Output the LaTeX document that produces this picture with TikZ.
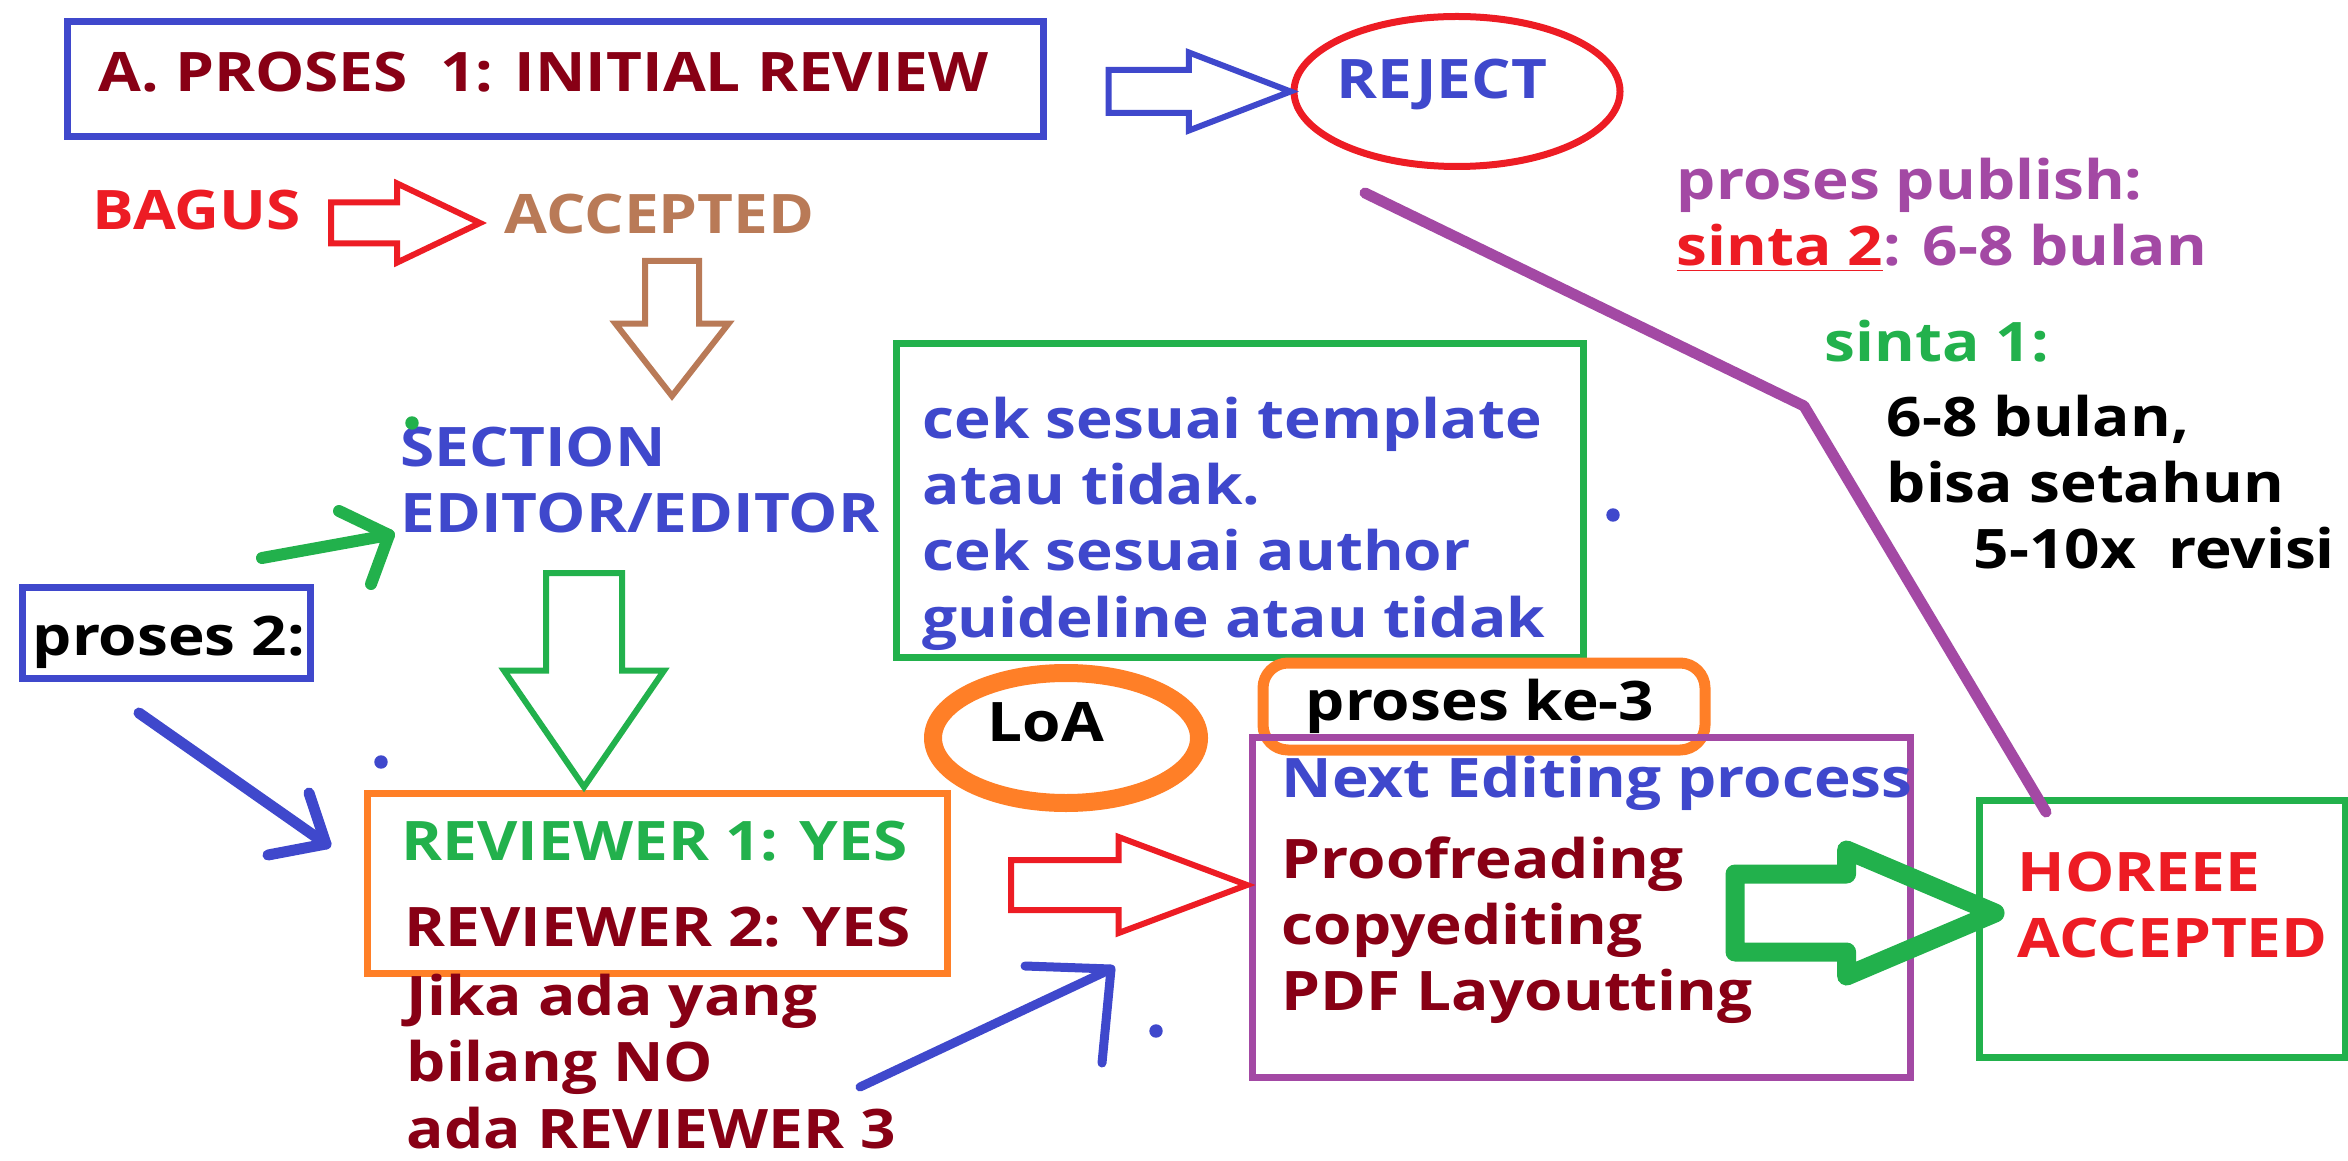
\documentclass[tikz,border=0pt]{standalone}
\usepackage{fontspec}
\setmainfont{Open Sans}[FakeStretch=1.14]
\usetikzlibrary{shapes.geometric,shapes.arrows}
\definecolor{pblue}{HTML}{3F48CC}
\definecolor{pred}{HTML}{ED1C24}
\definecolor{pdarkred}{HTML}{880015}
\definecolor{pbrown}{HTML}{B97A57}
\definecolor{pgreen}{HTML}{22B14C}
\definecolor{porange}{HTML}{FF7F27}
\definecolor{ppurple}{HTML}{A349A4}
\begin{document}
\begin{tikzpicture}[
  lbl/.style={font=\fontsize{15.5}{18.8}\selectfont\bfseries, align=left, inner sep=0pt, anchor=base west},
  frame/.style={draw=#1, line width=0.07cm, inner sep=0pt},
  hollow/.style={single arrow, draw=#1, fill=white, line width=0.06cm, inner xsep=0pt, outer sep=0pt, anchor=tip, single arrow head indent=0pt},
  pen/.style={draw=#1, line cap=round, line join=round}
]
\useasboundingbox (0,0) rectangle (23.48,11.6);

\node[frame=pblue, minimum width=9.76cm, minimum height=1.15cm] (initial) at (5.555,10.81) {};
\node[lbl, text=pdarkred] (initialtxt) at (0.98,10.68) {A. PROSES\ \ 1: INITIAL REVIEW};
\node[frame=pred, ellipse, minimum width=3.26cm, minimum height=1.50cm] (reject) at (14.57,10.685) {};
\node[lbl, text=pblue] (rejecttxt) at (13.36,10.61) {REJECT};
\node[hollow=pblue, minimum height=1.82cm, inner ysep=0.185cm, single arrow head extend=0.175cm, single arrow tip angle=42] (toreject) at (reject.west) {};

\node[lbl, text=pred] (bagus) at (0.92,9.30) {BAGUS};
\node[lbl, text=pbrown] (accepted) at (5.04,9.26) {ACCEPTED};
\node[hollow=pred, minimum height=1.49cm, inner ysep=0.175cm, single arrow head extend=0.19cm, single arrow tip angle=51] (toaccept) at (4.80,9.37) {};
\node[hollow=pbrown, rotate=-90, minimum height=1.35cm, inner ysep=0.24cm, single arrow head extend=0.295cm, single arrow tip angle=76] (toeditor) at (6.72,7.64) {};

\node[lbl, text=pblue] (editor) at (4.00,6.277) {SECTION\\EDITOR/EDITOR};
\draw[fill, pgreen] (4.12,7.37) circle [radius=0.06];
\coordinate (gtail) at (2.62,6.02);
\coordinate (gtip) at (3.89,6.25);
\draw[pen=pgreen, line width=0.12cm] (gtail) -- (gtip);
\draw[pen=pgreen, line width=0.12cm] (3.39,6.49) -- (gtip) -- (3.71,5.76);

\node[frame=pgreen, minimum width=6.87cm, minimum height=3.13cm] (cek) at (12.395,6.595) {};
\node[lbl, text=pblue] (cektxt) at (9.22,5.23) {cek sesuai template\\atau tidak.\\cek sesuai author\\guideline atau tidak};
\draw[fill, pblue] (16.13,6.45) circle [radius=0.06];

\node[frame=pblue, minimum width=2.88cm, minimum height=0.91cm] (proses2) at (1.66,5.275) {};
\node[lbl] (proses2txt) at (0.32,5.05) {proses 2:};
\coordinate (btail) at (1.39,4.47);
\coordinate (btip) at (3.26,3.16);
\draw[pen=pblue, line width=0.11cm] (btail) -- (btip);
\draw[pen=pblue, line width=0.11cm] (3.09,3.67) -- (btip) -- (2.68,3.05);
\draw[fill, pblue] (3.81,3.98) circle [radius=0.06];

\node[frame=porange, minimum width=5.80cm, minimum height=1.80cm] (review) at (6.57,2.77) {};
\node[hollow=pgreen, rotate=-90, minimum height=2.14cm, inner ysep=0.35cm, single arrow head extend=0.42cm, single arrow tip angle=69] (toreview) at (5.84,3.73) {};
\node[lbl, text=pgreen] (rev1) at (4.01,3.00) {REVIEWER 1: YES};
\node[lbl, text=pdarkred] (rev2) at (4.04,2.14) {REVIEWER 2: YES};
\node[lbl, text=pdarkred] (rev3) at (4.06,0.12) {Jika ada yang\\bilang NO\\ada REVIEWER 3};

\coordinate (ctail) at (8.60,0.73);
\coordinate (ctip) at (11.11,1.91);
\draw[pen=pblue, line width=0.09cm] (ctail) -- (ctip);
\draw[pen=pblue, line width=0.09cm] (10.25,1.94) -- (ctip) -- (11.02,0.97);
\draw[fill, pblue] (11.56,1.29) circle [radius=0.06];

\node[draw=porange, line width=0.18cm, ellipse, minimum width=2.66cm, minimum height=1.30cm] (loa) at (10.66,4.22) {};
\node[lbl] (loatxt) at (9.87,4.19) {LoA};

\node[frame=porange, line width=0.11cm, rounded corners=0.25cm, minimum width=4.42cm, minimum height=0.87cm] (ke3) at (14.84,4.535) {};
\node[frame=ppurple, minimum width=6.58cm, minimum height=3.40cm] (editing) at (15.81,2.53) {};
\node[lbl] (ke3txt) at (13.05,4.40) {proses ke-3};
\node[lbl, text=pblue] (nexttxt) at (12.81,3.63) {Next Editing process};
\node[lbl, text=pdarkred] (editingtxt) at (12.81,1.494) {Proofreading\\copyediting\\PDF Layoutting};
\node[hollow=pred, minimum height=2.36cm, inner ysep=0.22cm, single arrow head extend=0.23cm, single arrow tip angle=41] (toediting) at (12.47,2.75) {};

\node[frame=pgreen, minimum width=3.66cm, minimum height=2.57cm] (horeee) at (21.62,2.315) {};
\node[lbl, text=pred] (horeeetxt) at (20.17,2.027) {HOREEE\\ACCEPTED};
\node[hollow=pgreen, fill=none, line width=0.19cm, line join=round, minimum height=2.60cm, inner ysep=0.295cm, single arrow head extend=0.24cm, single arrow tip angle=46] (tohoreee) at (19.95,2.47) {};

\coordinate (pstart) at (13.65,9.67);
\coordinate (pbend) at (18.04,7.54);
\coordinate (pend) at (20.46,3.48);
\draw[pen=ppurple, line width=0.11cm] (pstart) -- (pbend) -- (pend);

\node[lbl, text=ppurple] (publish) at (16.76,8.947) {proses publish:\\\textcolor{pred}{\underline{sinta 2}}: 6-8 bulan};
\node[lbl, text=pgreen] (sinta1) at (18.24,7.98) {sinta 1:};
\node[lbl] (sinta1txt) at (18.86,5.914) {6-8 bulan,\\bisa setahun\\\hspace*{0.87cm}5-10x\ \ revisi};
\end{tikzpicture}
\end{document}
